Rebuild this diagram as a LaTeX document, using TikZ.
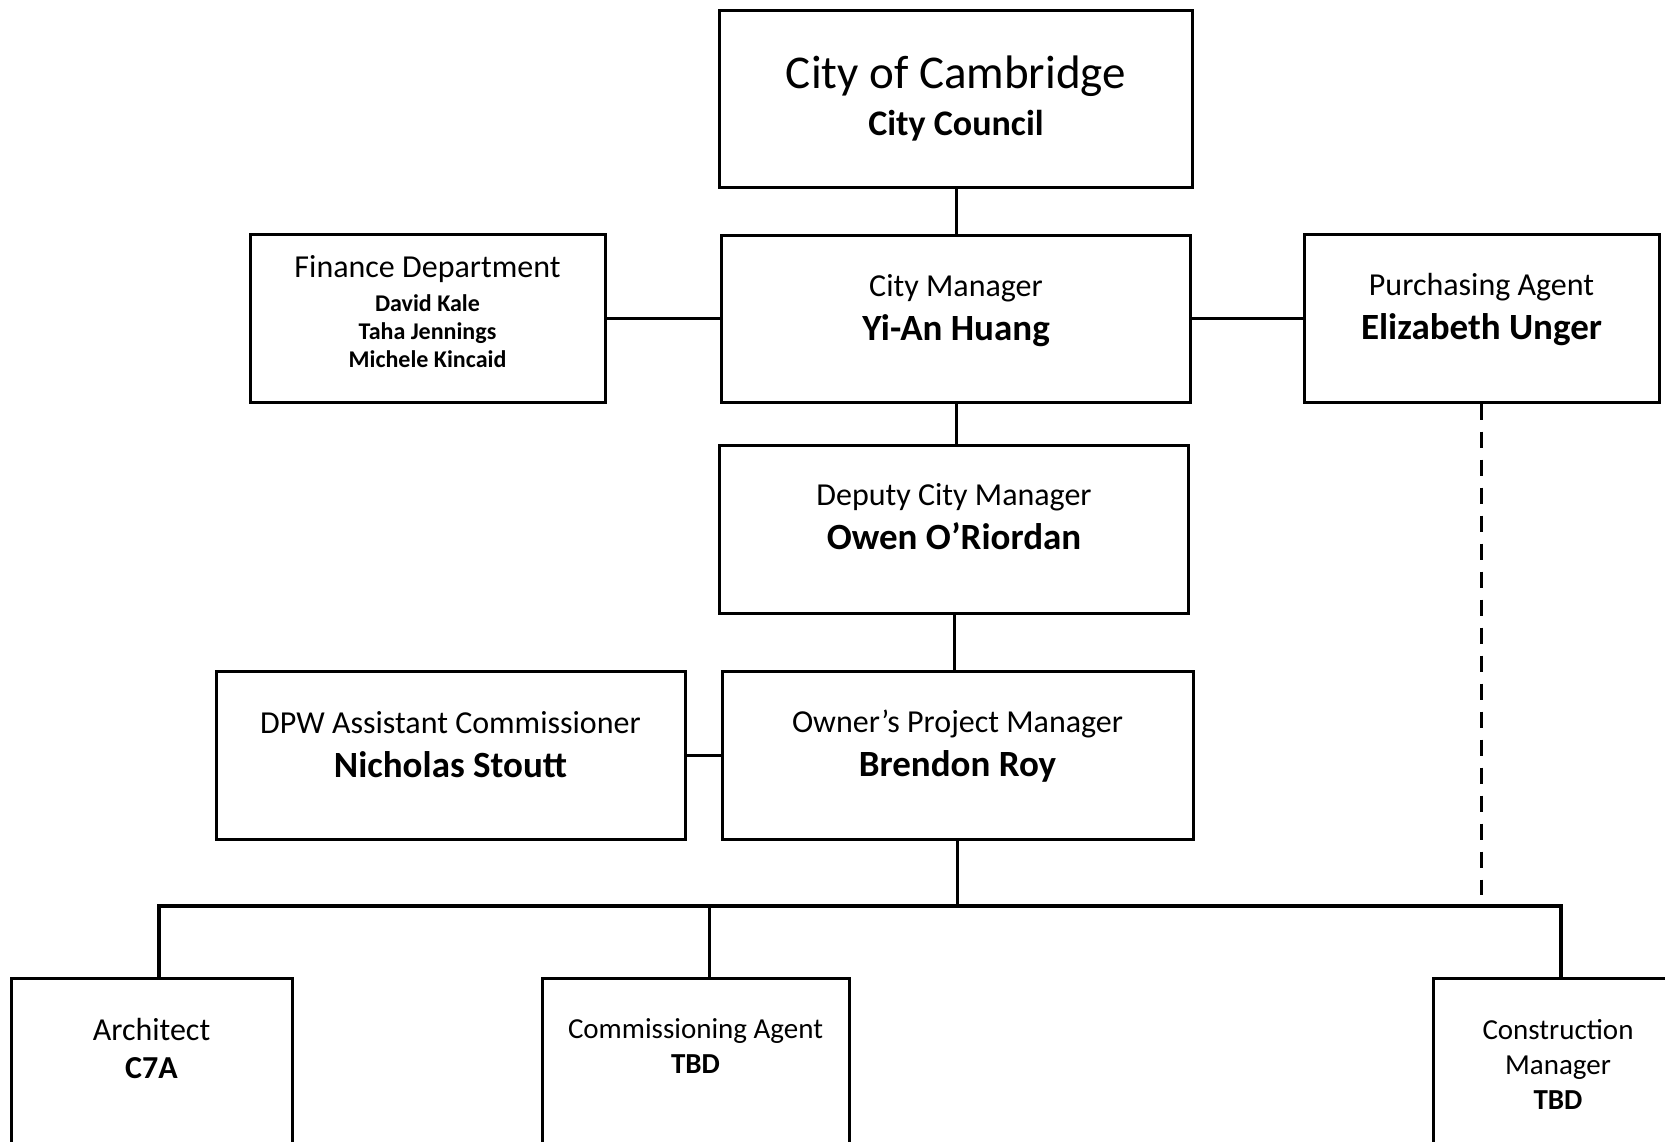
\documentclass[tikz,border=0pt]{standalone}
\usepackage{fontspec}
\setmainfont{Carlito}
\usetikzlibrary{positioning,calc}
\newcommand{\fsz}[2]{\fontsize{#1}{#2}\selectfont}
\tikzset{
  box/.style  = {rectangle, draw=black, line width=3pt, fill=white, inner sep=0pt},
  lbl/.style  = {align=center, inner sep=0pt},
  ln/.style   = {line width=3pt, black},
  lnd/.style  = {line width=3pt, black, dash pattern=on 16pt off 12pt},
}

\begin{document}
\begin{tikzpicture}[x=1pt, y=-1pt]
  \path[use as bounding box, clip] (0,0) rectangle (1665,1141);
  \fill[white] (0,0) rectangle (1665,1141);

  % boxes
  \node[box, minimum width=473pt, minimum height=177pt] (council) at (956,99) {};
  \node[box, minimum width=469pt, minimum height=167pt] (cm) at (956,318.5) {};
  \node[box, minimum width=355pt, minimum height=168pt] (fin) at (427.5,318) {};
  \node[box, minimum width=355pt, minimum height=168pt] (pur) at (1481.5,318) {};
  \node[box, minimum width=469pt, minimum height=168pt] (dcm) at (954,529) {};
  \node[box, minimum width=469pt, minimum height=168pt] (dpw) at (450.5,755) {};
  \node[box, minimum width=471pt, minimum height=168pt] (opm) at (957.5,755) {};
  \node[box, anchor=north, minimum width=281pt, minimum height=300pt] (arch) at (151.5,977) {};
  \node[box, anchor=north, minimum width=307pt, minimum height=300pt] (comm) at (695.5,977) {};
  \node[box, anchor=north, minimum width=256pt, minimum height=300pt] (constr) at (1561,977) {};

  % texts
  \node[lbl, font=\fsz{36}{47}] (councilT) at (council) {{\fsz{47}{47}City of Cambridge}\\\textbf{City Council}};
  \node[lbl, font=\fsz{32}{44}] (cmT) at ([yshift=8pt]cm.center) {City Manager\\{\fsz{37}{44}\bfseries Yi-An Huang}};
  \node[lbl, font=\fsz{24}{28}] (finT) at ([yshift=6pt]fin.center) {{\fsz{32}{28}Finance Department}\\[6pt]\textbf{David Kale}\\\textbf{Taha Jennings}\\\textbf{Michele Kincaid}};
  \node[lbl, font=\fsz{32}{44}] (purT) at ([yshift=8pt]pur.center) {Purchasing Agent\\{\fsz{37}{44}\bfseries Elizabeth Unger}};
  \node[lbl, font=\fsz{32}{44}] (dcmT) at ([yshift=12pt]dcm.center) {Deputy City Manager\\{\fsz{37}{44}\bfseries Owen O’Riordan}};
  \node[lbl, font=\fsz{32}{44}] (dpwT) at ([yshift=10pt]dpw.center) {DPW Assistant Commissioner\\{\fsz{37}{44}\bfseries Nicholas Stoutt}};
  \node[lbl, font=\fsz{32}{44}] (opmT) at ([yshift=9pt]opm.center) {Owner’s Project Manager\\{\fsz{37}{44}\bfseries Brendon Roy}};
  \node[lbl, font=\fsz{32}{38}] (archT) at ([yshift=-71pt]arch.north) {Architect\\\textbf{C7A}};
  \node[lbl, font=\fsz{29}{35}] (commT) at ([yshift=-69pt]comm.north) {Commissioning Agent\\\textbf{TBD}};
  \node[lbl, font=\fsz{29}{35}] (constrT) at ([yshift=-87pt,xshift=-3pt]constr.north) {Construction\\Manager\\\textbf{TBD}};

  % connectors
  \coordinate (busL) at (159,906);
  \coordinate (busM) at (709,906);
  \coordinate (busR) at (1561,906);
  \coordinate (dashend) at (1481,895);
  \draw[ln] (council.south) -- (council.south |- cm.north);
  \draw[ln] (fin.east) -- (fin.east -| cm.west);
  \draw[ln] (cm.east) -- (cm.east -| pur.west);
  \draw[ln] (cm.south) -- (cm.south |- dcm.north);
  \draw[ln] (dcm.south) -- (dcm.south |- opm.north);
  \draw[ln] (dpw.east) -- (dpw.east -| opm.west);
  \draw[ln] (opm.south) -- (opm.south |- busL);
  \draw[ln, line width=3.5pt] (busL |- arch.north) -- (busL) -- (busR) -- (busR |- constr.north);
  \draw[ln] (busM) -- (busM |- comm.north);
  \draw[lnd] (pur.south) -- (pur.south |- dashend);
\end{tikzpicture}
\end{document}
